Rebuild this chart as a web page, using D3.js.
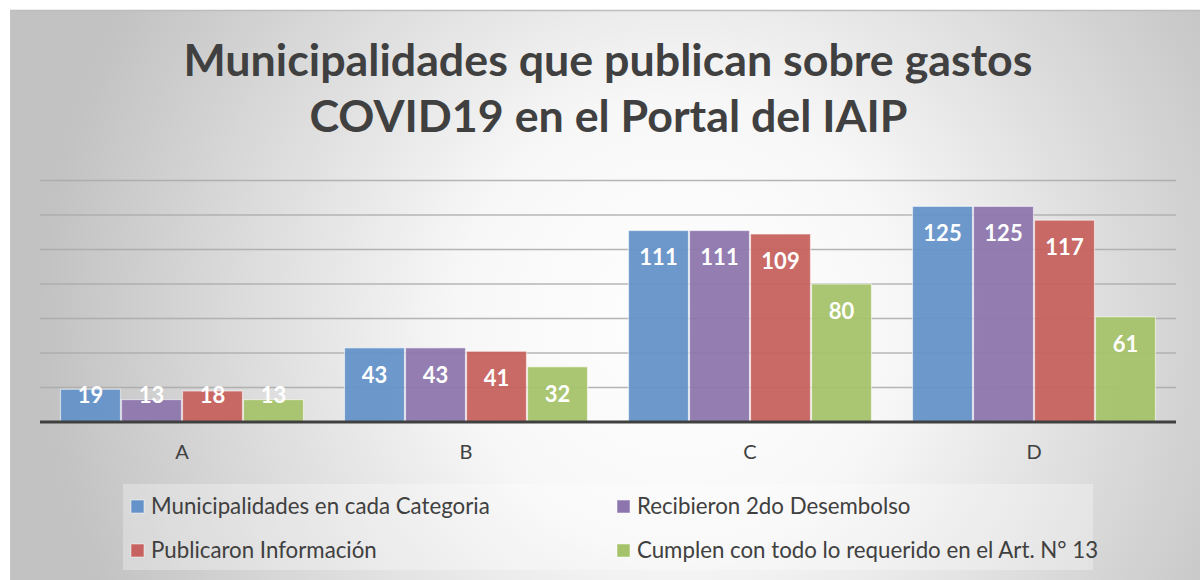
<!DOCTYPE html>
<html><head><meta charset="utf-8">
<script src="https://cdn.jsdelivr.net/npm/d3@7"></script>
<style>html,body{margin:0;padding:0;background:#fff;}svg{display:block;}</style>
</head><body>
<svg id="c" width="1200" height="580"></svg>
<script>
const categories = ["A","B","C","D"];
const seriesNames = ["Municipalidades en cada Categoria","Recibieron 2do Desembolso","Publicaron Información","Cumplen con todo lo requerido en el Art. N° 13"];
const municipalidades = [19,43,111,125];
const recibieron = [13,43,111,125];
const publicaron = [18,41,109,117];
const cumplen = [13,32,80,61];
const yTicks = [0,20,40,60,80,100,120,140];
const titleLines = ["Municipalidades que publican sobre gastos","COVID19 en el Portal del IAIP"];
const colors = ["#6592c8","#8d76ad","#c6625f","#a5c36a"];

const seriesValues = [municipalidades, recibieron, publicaron, cumplen];
const svg = d3.select("#c");
const font = "Lato, 'Open Sans', sans-serif";

// background
const defs = svg.append("defs");
const rg = defs.append("radialGradient").attr("id","bg")
  .attr("gradientUnits","userSpaceOnUse").attr("cx",680).attr("cy",320).attr("r",640);
rg.append("stop").attr("offset","0").attr("stop-color","#ffffff");
rg.append("stop").attr("offset","0.35").attr("stop-color","#f7f7f7");
rg.append("stop").attr("offset","1").attr("stop-color","#c2c2c2");
svg.append("rect").attr("x",10).attr("y",10).attr("width",1190).attr("height",570).attr("fill","url(#bg)");
svg.append("line").attr("x1",10).attr("x2",1200).attr("y1",10.5).attr("y2",10.5).attr("stroke","#bdbdbd").attr("stroke-width",1.5);
svg.append("line").attr("x1",10.5).attr("x2",10.5).attr("y1",10).attr("y2",580).attr("stroke","#c4c4c4").attr("stroke-width",1);

function fitText(sel, targetW, baseSize){
  sel.attr("font-size", baseSize);
  const w = sel.node().getComputedTextLength();
  const s = baseSize * targetW / w;
  sel.attr("font-size", s);
  return s;
}

// title
const t1 = svg.append("text").attr("x",608).attr("y",76).attr("text-anchor","middle")
  .attr("font-family",font).attr("font-weight","bold").attr("fill","#404040").text(titleLines[0]);
fitText(t1, 849, 40);
const t2 = svg.append("text").attr("x",608.5).attr("y",132).attr("text-anchor","middle")
  .attr("font-family",font).attr("font-weight","bold").attr("fill","#404040").text(titleLines[1]);
t2.attr("font-size", t1.attr("font-size"));

// scales
const x0 = d3.scaleBand().domain(categories).range([40,1176]).paddingInner(0).paddingOuter(0);
const y = d3.scaleLinear().domain([0,140]).range([422,180.5]);
const x1 = d3.scaleBand().domain(d3.range(4)).range([20, x0.bandwidth()-20]).padding(0);

// gridlines
svg.append("g").selectAll("line").data(yTicks.filter(d=>d>0)).join("line")
  .attr("x1",40).attr("x2",1176).attr("y1",d=>y(d)).attr("y2",d=>y(d))
  .attr("stroke","#a9a9a9").attr("stroke-width",1.6).attr("stroke-opacity",0.85);

// bars
const g = svg.append("g");
categories.forEach((c,ci)=>{
  seriesValues.forEach((vals,si)=>{
    const v = vals[ci];
    const bx = x0(c)+x1(si);
    g.append("rect").attr("x",bx+0.5).attr("y",y(v)).attr("width",x1.bandwidth()-1).attr("height",y(0)-y(v))
      .attr("fill",colors[si]).attr("fill-opacity",0.95)
      .attr("stroke","#ffffff").attr("stroke-opacity",0.55).attr("stroke-width",1.2);
  });
});
// labels
categories.forEach((c,ci)=>{
  seriesValues.forEach((vals,si)=>{
    const v = vals[ci];
    const cx = x0(c)+x1(si)+x1.bandwidth()/2;
    const cy = Math.min(y(v)+27, y(0)-26.5);
    g.append("text").attr("x",cx).attr("y",cy).attr("dy","0.36em").attr("text-anchor","middle")
      .attr("font-family",font).attr("font-weight","bold").attr("font-size",22).attr("fill","#ffffff").text(v);
  });
});

// baseline
svg.append("line").attr("x1",40).attr("x2",1176).attr("y1",y(0)).attr("y2",y(0)).attr("stroke","#404040").attr("stroke-width",3);

// x axis labels
const xAxis = d3.axisBottom(x0).tickSize(0).tickPadding(0);
const ax = svg.append("g").attr("transform",`translate(0,${y(0)})`).call(xAxis);
ax.select(".domain").remove();
ax.selectAll("text").attr("y",37).attr("dy",0).attr("font-family",font).attr("font-size",20).attr("fill","#404040");

// legend
svg.append("rect").attr("x",123).attr("y",484).attr("width",970).attr("height",86).attr("fill","#ffffff").attr("fill-opacity",0.3);
const legPos = [[131,506],[617,506],[131,550],[617,550]];
const legTexts = [];
seriesNames.forEach((n,i)=>{
  const [lx,ly] = legPos[i];
  svg.append("rect").attr("x",lx).attr("y",ly-6).attr("width",13).attr("height",13).attr("fill",colors[i])
    .attr("stroke","#ffffff").attr("stroke-opacity",0.5);
  legTexts.push(svg.append("text").attr("x",lx+20).attr("y",ly).attr("dy","0.36em").attr("font-family",font)
    .attr("fill","#404040").text(n));
});
const ls = fitText(legTexts[0], 339, 20);
legTexts.forEach(t=>t.attr("font-size", ls));
</script>
</body></html>
